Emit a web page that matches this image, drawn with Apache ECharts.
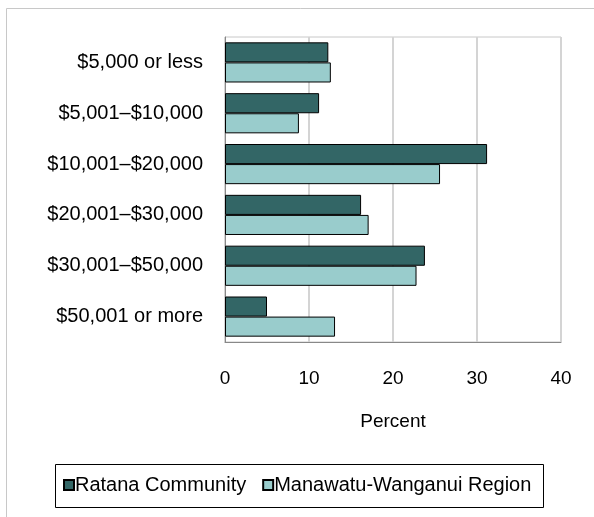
<!DOCTYPE html>
<html>
<head>
<meta charset="utf-8">
<script src="https://cdn.jsdelivr.net/npm/echarts@6/dist/echarts.min.js"></script>
<style>
  html, body { margin: 0; padding: 0; background: #fff; }
  #chart { width: 594px; height: 517px; }
</style>
</head>
<body>
<div id="chart"></div>
<script>
const categories = [
  "$5,000 or less",
  "$5,001\u2013$10,000",
  "$10,001\u2013$20,000",
  "$20,001\u2013$30,000",
  "$30,001\u2013$50,000",
  "$50,001 or more"
];
const ratana = [12.3, 11.2, 31.2, 16.2, 23.8, 5.0];
const region = [12.6, 8.8, 25.6, 17.1, 22.8, 13.1];
const xTicks = [0, 10, 20, 30, 40];

const font = "Liberation Sans, Arial, sans-serif";

const chart = echarts.init(document.getElementById("chart"));
chart.setOption({
  animation: false,
  backgroundColor: "#fff",
  graphic: [
    {
      // outer frame (right/bottom edges fall outside the picture)
      type: "rect",
      shape: { x: 6.5, y: 8.5, width: 620, height: 540 },
      style: { fill: "none", stroke: "#c8c8c8", lineWidth: 1 },
      z: -1
    },
    {
      // legend box
      type: "rect",
      shape: { x: 55.5, y: 464.5, width: 488, height: 43 },
      style: { fill: "none", stroke: "#000", lineWidth: 1 },
      z: 10
    }
  ],
  grid: {
    left: 225,
    right: 33,
    top: 37,
    bottom: 175,
    show: true,
    borderColor: "#c8c8c8",
    borderWidth: 1
  },
  legend: {
    top: 475,
    left: 55,
    padding: [0, 8, 0, 8],
    itemWidth: 10,
    itemHeight: 10,
    itemGap: 16,
    icon: "rect",
    textStyle: { fontFamily: font, fontSize: 20, color: "#000", padding: [0, 0, 0, -4], letterSpacing: 0.4 },
    data: ["Ratana Community", "Manawatu-Wanganui Region"]
  },
  xAxis: {
    type: "value",
    min: xTicks[0],
    max: xTicks[xTicks.length - 1],
    interval: 10,
    name: "Percent",
    nameLocation: "middle",
    nameGap: 70,
    nameTextStyle: { fontFamily: font, fontSize: 19, color: "#000" },
    axisLine: { show: true, lineStyle: { color: "#888", width: 1 } },
    axisTick: { show: false },
    axisLabel: { margin: 27, fontFamily: font, fontSize: 19, color: "#000" },
    splitLine: { lineStyle: { color: "#d4d4d4", width: 2 } }
  },
  yAxis: {
    type: "category",
    inverse: true,
    data: categories,
    axisLine: { show: true, lineStyle: { color: "#888", width: 1 } },
    axisTick: { show: false },
    axisLabel: { margin: 22, fontFamily: font, fontSize: 20, color: "#000", letterSpacing: 0.8 }
  },
  series: [
    {
      name: "Ratana Community",
      type: "bar",
      data: ratana,
      barGap: "0%",
      barCategoryGap: "21%",
      itemStyle: { color: "#336666", borderColor: "#000", borderWidth: 1 }
    },
    {
      name: "Manawatu-Wanganui Region",
      type: "bar",
      data: region,
      barGap: "0%",
      barCategoryGap: "21%",
      itemStyle: { color: "#99cccc", borderColor: "#000", borderWidth: 1 }
    }
  ]
});
</script>
</body>
</html>
